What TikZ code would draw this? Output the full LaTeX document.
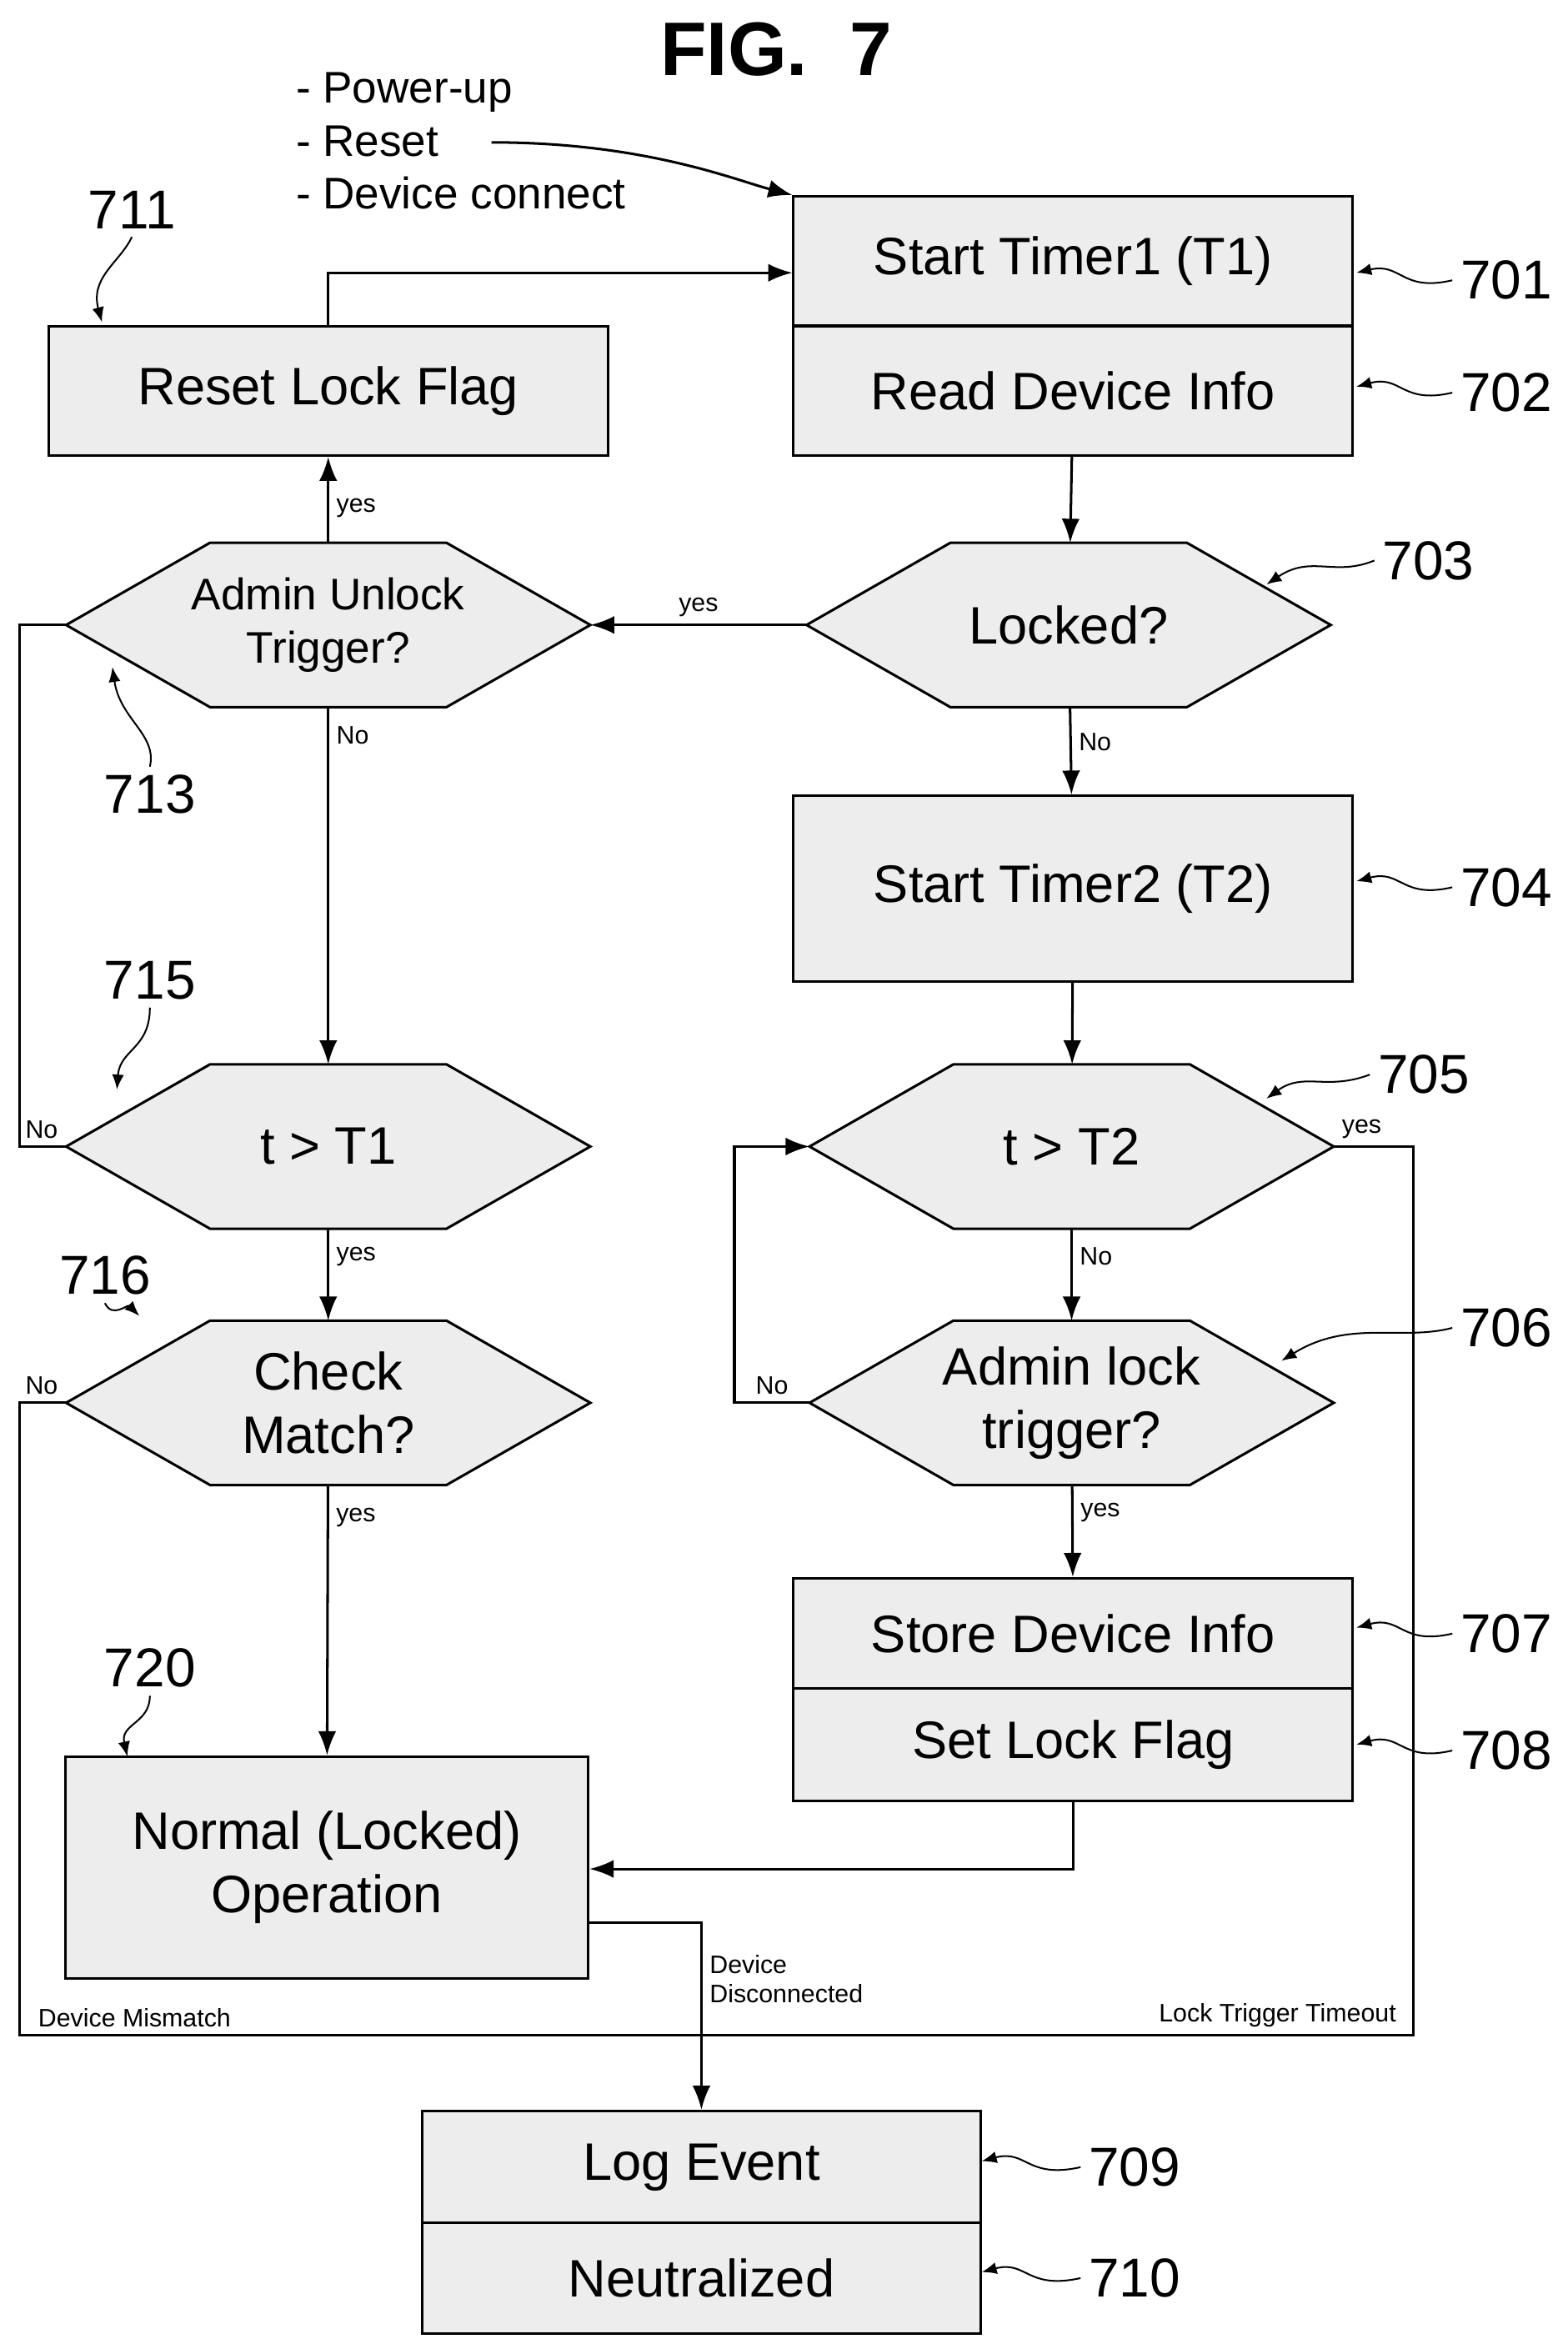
\documentclass[tikz,border=0pt]{standalone}
\usepackage{fontspec}
\setmainfont{Liberation Sans}
\usetikzlibrary{arrows.meta, backgrounds, positioning}
\tikzset{
  >={Latex[length=4mm,width=3mm]},
  base/.style = {draw, line width=1.2pt, fill=gray!14, inner sep=0pt,
                 font=\fontsize{25}{30}\selectfont, align=center},
}
\newcommand\hexshape[1]{%
  \draw[line width=1.2pt, fill=gray!14] (#1.west) -- ([xshift=2.4cm]#1.north west) -- ([xshift=-2.4cm]#1.north east)
    -- (#1.east) -- ([xshift=-2.4cm]#1.south east) -- ([xshift=2.4cm]#1.south west) -- cycle;}
\begin{document}
\begin{tikzpicture}[x=0.025cm, y=-0.025cm, line width=1.2pt,
    box/.style    = {base, rectangle, minimum width=9.325cm, minimum height=2.15cm},
    decision/.style = {base, rectangle, draw=none, fill=none, minimum width=8.7cm, minimum height=2.7cm},
    ref/.style    = {font=\fontsize{26}{30}\selectfont},
    tag/.style    = {font=\fontsize{12}{14}\selectfont},
    leader/.style = {->, line width=0.8pt, >={Latex[length=2.5mm,width=2mm]}},
  ]
  \useasboundingbox (0,0) rectangle (1046,1564);
  \node[font=\bfseries\fontsize{36}{40}\selectfont] (title) at (518,33) {FIG.\ \ 7};
  \node[font=\fontsize{21}{25}\selectfont, align=left, anchor=west] (events) at (192,94)
    {- Power-up\\- Reset\\- Device connect};

  % right column
  \node[box] (start1) at (716,174) {Start Timer1 (T1)};
  \node[box] (read)   at (716,261) {Read Device Info};
  \node[decision] (locked) at (713,417) {Locked?};
  \node[box, minimum height=3.1cm] (start2) at (716,593) {Start Timer2 (T2)};
  \node[decision] (tt2) at (715,765) {t > T2};
  \node[decision] (lock) at (715,936) {Admin lock\\trigger?};
  \node[box, minimum height=1.85cm] (store) at (716,1090) {Store Device Info};
  \node[box, minimum height=1.875cm] (setflag) at (716,1164) {Set Lock Flag};

  % left column
  \node[box] (reset) at (219,261) {Reset Lock Flag};
  \node[decision, font=\fontsize{21}{25}\selectfont] (unlock) at (219,417) {Admin Unlock\\Trigger?};
  \node[decision] (tt1) at (219,765) {t > T1};
  \node[decision] (match) at (219,936) {Check\\Match?};
  \node[box, minimum width=8.725cm, minimum height=3.7cm] (normal) at (218,1246) {Normal (Locked)\\Operation};

  % bottom
  \node[box, minimum height=1.875cm] (log)     at (468,1446) {Log Event};
  \node[box, minimum height=1.85cm]  (neutral) at (468,1520) {Neutralized};

  \begin{scope}[on background layer]
    \foreach \d in {locked, tt2, lock, unlock, tt1, match} {\hexshape{\d}}
  \end{scope}

  % connectors
  \draw[->] (events.east |- 0,95) ++(-95,0) .. controls (430,95) and (490,120) .. (start1.north west);
  \draw[->] (reset.north) |- (start1.west |- 0,182);
  \draw[->] (read) -- (locked);
  \draw[->] (locked) -- node[above, tag] {yes} (unlock);
  \draw[->] (unlock) -- node[right, tag, pos=0.4] {yes} (reset);
  \draw[->] (unlock) -- node[right, tag, pos=0.08] {No} (tt1);
  \draw (unlock.west) -- (13,417) |- (tt1.west) node[tag, pos=1, above left] {No};
  \draw[->] (locked) -- node[right, tag, pos=0.4] {No} (start2);
  \draw[->] (start2) -- (tt2);
  \draw[->] (tt2) -- node[right, tag, pos=0.3] {No} (lock);
  \draw[->] (lock.west) -- node[above, tag] {No} (490,936) |- (tt2.west);
  \draw[->] (lock) -- node[right, tag, pos=0.3] {yes} (store);
  \draw[->] (setflag.south) |- (normal.east |- 0,1247);
  \draw[->] (tt1) -- node[right, tag, pos=0.3] {yes} (match);
  \draw[->] (match) -- node[right, tag, pos=0.12] {yes} (normal);
  \draw (match.west) node[above left, tag] {No} -- (13,936) |- (943,1358) -- (943,765) -- (tt2.east) node[pos=1, above right, tag] {yes};
  \draw[->] (normal.east |- 0,1283) -| node[right, tag, align=left, pos=0.65] {Device\\Disconnected} (log.north);
  \node[tag, anchor=south west] (mismatch) at (20,1358) {Device Mismatch};
  \node[tag, anchor=south east] (timeout) at (937,1358) {Lock Trigger Timeout};

  % reference numerals
  \node[ref] (r701) at (1005,187) {701};
  \node[ref] (r702) at (1005,262) {702};
  \node[ref] (r703) at (953,374) {703};
  \node[ref] (r704) at (1005,592) {704};
  \node[ref] (r705) at (950,717) {705};
  \node[ref] (r706) at (1005,886) {706};
  \node[ref] (r707) at (1005,1090) {707};
  \node[ref] (r708) at (1005,1168) {708};
  \node[ref] (r709) at (757,1446) {709};
  \node[ref] (r710) at (757,1520) {710};
  \node[ref] (r711) at (88,140) {711};
  \node[ref] (r713) at (100,530) {713};
  \node[ref] (r715) at (100,654) {715};
  \node[ref] (r716) at (70,851) {716};
  \node[ref] (r720) at (100,1113) {720};
  \draw[leader] (r701.west) .. controls (935,195) and (935,175) .. (905,182);
  \draw[leader] (r702.west) .. controls (935,270) and (935,250) .. (905,258);
  \draw[leader] (r703.west) .. controls (890,385) and (875,370) .. (845,390);
  \draw[leader] (r704.west) .. controls (935,600) and (935,580) .. (905,588);
  \draw[leader] (r705.west) .. controls (885,728) and (870,715) .. (845,733);
  \draw[leader] (r706.west) .. controls (935,895) and (900,880) .. (855,908);
  \draw[leader] (r707.west) .. controls (935,1098) and (935,1078) .. (905,1086);
  \draw[leader] (r708.west) .. controls (935,1176) and (935,1156) .. (905,1164);
  \draw[leader] (r709.west) .. controls (685,1454) and (685,1434) .. (655,1442);
  \draw[leader] (r710.west) .. controls (685,1528) and (685,1508) .. (655,1516);
  \draw[leader] (r711.south) .. controls (80,175) and (60,185) .. (68,215);
  \draw[leader] (r713.north) .. controls (105,490) and (80,480) .. (75,445);
  \draw[leader] (r715.south) .. controls (100,700) and (80,700) .. (78,727);
  \draw[leader] (r716.south) .. controls (75,880) and (85,870) .. (93,878);
  \draw[leader] (r720.south) .. controls (100,1150) and (80,1150) .. (85,1172);
\end{tikzpicture}
\end{document}
